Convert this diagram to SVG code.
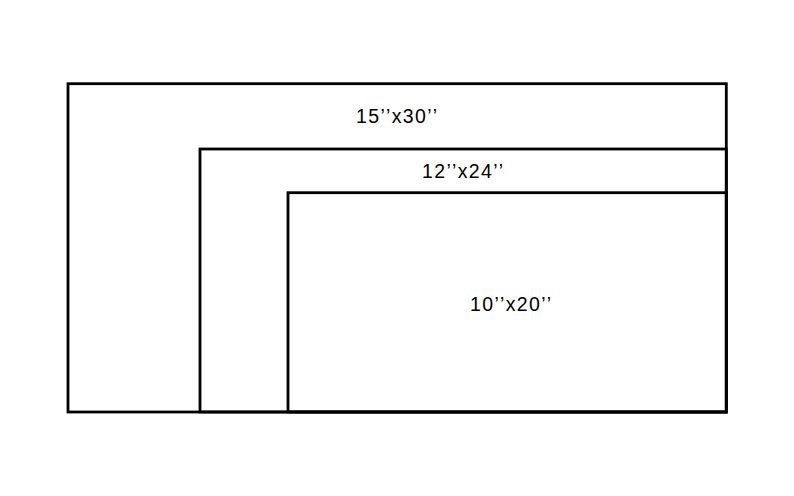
<svg xmlns="http://www.w3.org/2000/svg" width="794" height="496" viewBox="0 0 794 496">
<style>
.r{fill:none;stroke:#000;stroke-width:2.8}
.t{font-family:"Liberation Sans",Arial,sans-serif;font-size:19.5px;fill:#000}
</style>
<rect width="794" height="496" fill="#fff"/>
<g id="outer"><rect class="r" x="68" y="83.7" width="658.3" height="328.3"/><text class="t" x="356" y="123" textLength="81" lengthAdjust="spacing">15’’x30’’</text></g>
<g id="middle"><rect class="r" x="200" y="149" width="526.3" height="263"/><text class="t" x="422" y="178" textLength="81" lengthAdjust="spacing">12’’x24’’</text></g>
<g id="inner"><rect class="r" x="288" y="192.7" width="438.3" height="219.3"/><text class="t" x="470" y="310.5" textLength="81" lengthAdjust="spacing">10’’x20’’</text></g>
<g id="connectors"/>
</svg>
